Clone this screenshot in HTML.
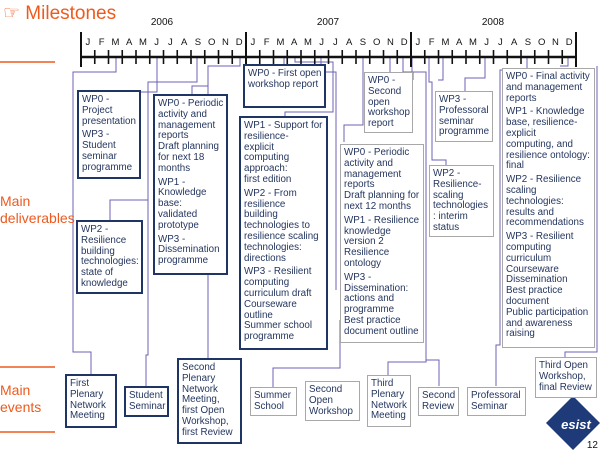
<!DOCTYPE html>
<html><head><meta charset="utf-8"><style>
body{margin:0;width:600px;height:450px;background:#fff;position:relative;overflow:hidden;font-family:"Liberation Sans",sans-serif}
.b{position:absolute;box-sizing:border-box;background:#fff;color:#24365f;font-size:9.8px;line-height:10.8px;padding:3px 2px 1px 3px;overflow:hidden}
.k{border:2px solid #1f3566}
.t{border:1px solid #a8a8a8}
.b p{margin:0 0 3px 0}
.o{position:absolute;color:#ee5a1e;font-size:14px;line-height:17px}
svg{position:absolute;left:0;top:0}
</style></head><body>
<svg width="600" height="450">
<g stroke="#ee5a1e" stroke-width="1.5"><line x1="0" y1="62" x2="55" y2="62"/><line x1="0" y1="367" x2="55" y2="367"/><line x1="0" y1="432" x2="55" y2="432"/></g>
<g stroke="#6b63b5" fill="none" stroke-width="1">
<polyline points="116,57 116,72 73,72 73,352 91,352 91,374"/>
<polyline points="157,57 157,92 110,92 110,90"/>
<polyline points="197,57 197,82 148,82 148,355 146,355 146,386"/>
<polyline points="148,200 110,200 110,220"/>
<polyline points="240,57 240,66 208,66 208,358"/>
<polyline points="208,86 192,86 192,94"/>
<polyline points="284,57 284,64"/>
<polyline points="295,57 295,62 333,62 333,112 285,112 285,116"/>
<polyline points="321,57 321,72 336,72 336,290"/>
<polyline points="363,57 363,125 344,125 344,142"/>
<polyline points="340,320 340,368 273,368 273,387"/>
<polyline points="390,57 390,72"/>
<polyline points="403,57 403,72 413,72 413,80"/>
<polyline points="412,57 412,72 426,72 426,362 388,362 388,375"/>
<polyline points="426,360 439,360 439,386"/>
<polyline points="429,57 429,82 432,82 432,160 446,160 446,165"/>
<polyline points="443,57 443,80 438,80"/>
<polyline points="485,57 485,78 465,78 465,91"/>
<polyline points="527,57 527,70 500,70 500,345 496,345 496,386"/>
<polyline points="568,57 568,66 560,66"/>
<polyline points="597,66 597,352 565,352 565,357"/>
</g>
<g stroke="#111" stroke-width="2.5"><line x1="80" y1="57" x2="576" y2="57"/></g>
<g stroke="#111" stroke-width="2">
<line x1="81" y1="32" x2="81" y2="67"/><line x1="246" y1="32" x2="246" y2="67"/><line x1="411" y1="32" x2="411" y2="67"/><line x1="576" y1="32" x2="576" y2="67"/>
</g>
<g stroke="#111" stroke-width="1.6" id="ticks"></g>
<g font-family="Liberation Sans" font-size="9.5" fill="#111" text-anchor="middle" id="months"></g>
<g font-family="Liberation Sans" font-size="10" fill="#111" text-anchor="middle"><text x="162" y="25">2006</text><text x="328" y="25">2007</text><text x="493" y="25">2008</text></g>
<polygon points="573,396 600,423 573,450 546,423" fill="#1f3a78"/>
<text x="576" y="429" font-family="Liberation Sans" font-size="13" font-style="italic" font-weight="bold" fill="#fff" text-anchor="middle">esist</text>
<text x="598" y="448" font-family="Liberation Sans" font-size="10" fill="#111" text-anchor="end">12</text>
</svg>
<div class="o" style="left:3px;top:3px;font-size:19px;line-height:22px">☞ Milestones</div>
<div class="o" style="left:0;top:193px">Main<br>deliverables</div>
<div class="o" style="left:0;top:382px">Main<br>events</div>

<div class="b k" style="left:77px;top:90px;width:64px;height:89px"><p>WP0 -<br>Project presentation</p><p>WP3 -<br>Student seminar programme</p></div>
<div class="b k" style="left:76px;top:220px;width:67px;height:74px"><p>WP2 -<br>Resilience building technologies: state of knowledge</p></div>
<div class="b k" style="left:153px;top:94px;width:75px;height:181px"><p>WP0 - Periodic activity and management reports<br>Draft planning for next 18 months</p><p>WP1 -<br>Knowledge base:<br>validated prototype</p><p>WP3 -<br>Dissemination programme</p></div>
<div class="b k" style="left:243px;top:64px;width:83px;height:44px"><p>WP0 - First open workshop report</p></div>
<div class="b k" style="left:239px;top:116px;width:89px;height:234px"><p>WP1 - Support for<br>resilience-<br>explicit<br>computing<br>approach:<br>first edition</p><p>WP2 - From<br>resilience<br>building<br>technologies to<br>resilience scaling<br>technologies:<br>directions</p><p>WP3 - Resilient<br>computing<br>curriculum draft<br>Courseware<br>outline<br>Summer school<br>programme</p></div>
<div class="b t" style="left:364px;top:72px;width:49px;height:61px"><p>WP0 -<br>Second open workshop report</p></div>
<div class="b t" style="left:340px;top:144px;width:84px;height:199px"><p>WP0 - Periodic activity and management reports<br>Draft planning for next 12 months</p><p>WP1 - Resilience knowledge<br>version 2<br>Resilience<br>ontology</p><p>WP3 -<br>Dissemination: actions and programme<br>Best practice document outline</p></div>
<div class="b t" style="left:435px;top:91px;width:58px;height:51px"><p>WP3 -<br>Professoral seminar programme</p></div>
<div class="b t" style="left:429px;top:165px;width:65px;height:72px"><p>WP2 -<br>Resilience-<br>scaling technologies<br>: interim status</p></div>
<div class="b t" style="left:502px;top:68px;width:93px;height:280px"><p>WP0 - Final activity and management reports</p><p>WP1 - Knowledge<br>base, resilience-<br>explicit<br>computing, and<br>resilience ontology:<br>final</p><p>WP2 - Resilience<br>scaling<br>technologies:<br>results and<br>recommendations</p><p>WP3 - Resilient<br>computing<br>curriculum<br>Courseware<br>Dissemination<br>Best practice<br>document<br>Public participation and awareness raising</p></div>

<div class="b k" style="left:65px;top:374px;width:52px;height:54px">First Plenary Network Meeting</div>
<div class="b k" style="left:124px;top:386px;width:45px;height:31px">Student Seminar</div>
<div class="b k" style="left:177px;top:358px;width:65px;height:86px">Second Plenary Network Meeting, first Open Workshop, first Review</div>
<div class="b t" style="left:250px;top:387px;width:47px;height:29px">Summer School</div>
<div class="b t" style="left:305px;top:381px;width:55px;height:40px">Second Open Workshop</div>
<div class="b t" style="left:367px;top:375px;width:44px;height:52px">Third Plenary Network Meeting</div>
<div class="b t" style="left:418px;top:387px;width:41px;height:29px">Second Review</div>
<div class="b t" style="left:467px;top:387px;width:59px;height:29px">Professoral Seminar</div>
<div class="b t" style="left:535px;top:357px;width:62px;height:41px">Third Open Workshop, final Review</div>
<script>
var m="JFMAMJJASOND",t=document.getElementById('ticks'),g=document.getElementById('months'),ns="http://www.w3.org/2000/svg";
for(var y=0;y<3;y++)for(var i=0;i<12;i++){var x0=81+y*165+i*13.75;
if(i>0){var l=document.createElementNS(ns,'line');l.setAttribute('x1',x0);l.setAttribute('x2',x0);l.setAttribute('y1',50);l.setAttribute('y2',64);t.appendChild(l);}
var s=document.createElementNS(ns,'text');s.setAttribute('x',x0+6.9);s.setAttribute('y',45);s.textContent=m[i];g.appendChild(s);}
</script>
</body></html>
